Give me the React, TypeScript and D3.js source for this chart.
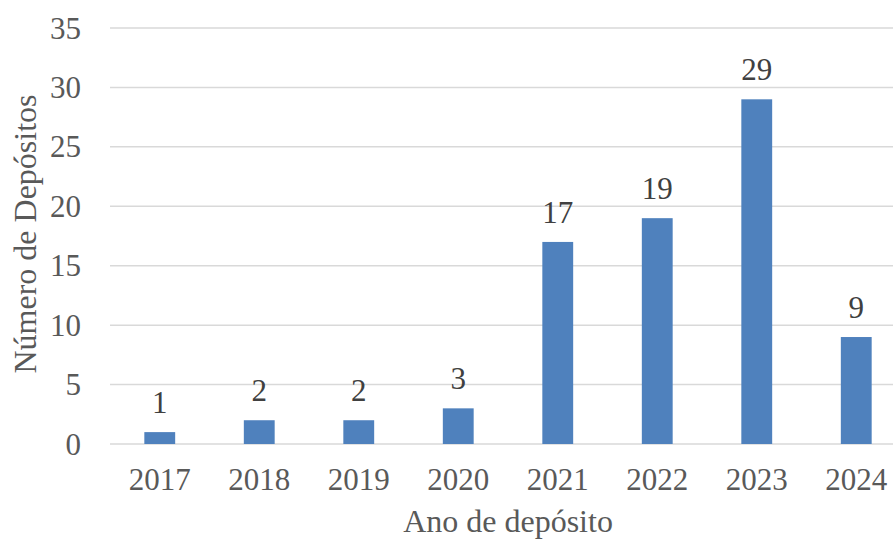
import { useEffect, useRef } from 'react'
import * as d3 from 'd3'

const years = ['2017', '2018', '2019', '2020', '2021', '2022', '2023', '2024']
const deposits = [1, 2, 2, 3, 17, 19, 29, 9]
const yTicks = [0, 5, 10, 15, 20, 25, 30, 35]

export default () => {
  const svgRef = useRef<SVGSVGElement>(null)

  useEffect(() => {
    const width = 893,
      height = 540
    const margin = { top: 28, left: 110, plotRight: 906, bottom: 444 }
    const font = "'Liberation Serif', 'Times New Roman', serif"
    const textColor = '#595959'

    const svg = d3.select(svgRef.current).attr('width', width).attr('height', height)
    svg.selectAll('*').remove()

    const x = d3
      .scaleBand<string>()
      .domain(years)
      .range([margin.left, margin.plotRight])
      .paddingInner(0.69)
      .paddingOuter(0.345)
    const y = d3.scaleLinear().domain([0, 35]).range([margin.bottom, margin.top])

    // gridlines
    svg
      .append('g')
      .selectAll('line')
      .data(yTicks)
      .join('line')
      .attr('x1', margin.left)
      .attr('x2', margin.plotRight)
      .attr('y1', (d) => y(d))
      .attr('y2', (d) => y(d))
      .attr('stroke', '#d9d9d9')
      .attr('stroke-width', 1.5)

    // y tick labels
    svg
      .append('g')
      .selectAll('text')
      .data(yTicks)
      .join('text')
      .attr('x', 81)
      .attr('y', (d) => y(d))
      .attr('dy', '0.34em')
      .attr('text-anchor', 'end')
      .style('font-family', font)
      .style('font-size', '31px')
      .style('fill', textColor)
      .text((d) => d)

    // bars
    svg
      .append('g')
      .selectAll('rect')
      .data(deposits)
      .join('rect')
      .attr('x', (_, i) => x(years[i]) as number)
      .attr('y', (d) => y(d))
      .attr('width', x.bandwidth())
      .attr('height', (d) => y(0) - y(d))
      .style('fill', '#4f81bd')

    // value labels
    svg
      .append('g')
      .selectAll('text')
      .data(deposits)
      .join('text')
      .attr('x', (_, i) => (x(years[i]) as number) + x.bandwidth() / 2)
      .attr('y', (d) => y(d) - 19)
      .attr('text-anchor', 'middle')
      .style('font-family', font)
      .style('font-size', '31px')
      .style('fill', '#404040')
      .text((d) => d)

    // x tick labels
    svg
      .append('g')
      .selectAll('text')
      .data(years)
      .join('text')
      .attr('x', (d) => (x(d) as number) + x.bandwidth() / 2)
      .attr('y', 490)
      .attr('text-anchor', 'middle')
      .style('font-family', font)
      .style('font-size', '31px')
      .style('fill', textColor)
      .text((d) => d)

    // axis titles
    svg
      .append('text')
      .attr('x', (margin.left + margin.plotRight) / 2)
      .attr('y', 532)
      .attr('text-anchor', 'middle')
      .style('font-family', font)
      .style('font-size', '32px')
      .style('fill', textColor)
      .text('Ano de depósito')

    svg
      .append('text')
      .attr('transform', 'translate(36,234) rotate(-90)')
      .attr('text-anchor', 'middle')
      .style('font-family', font)
      .style('font-size', '32px')
      .style('fill', textColor)
      .text('Número de Depósitos')
  }, [])

  return (
    <svg
      ref={svgRef}
      style={{ position: 'absolute', left: 0, top: 0, overflow: 'hidden', background: '#fff' }}
    ></svg>
  )
}
